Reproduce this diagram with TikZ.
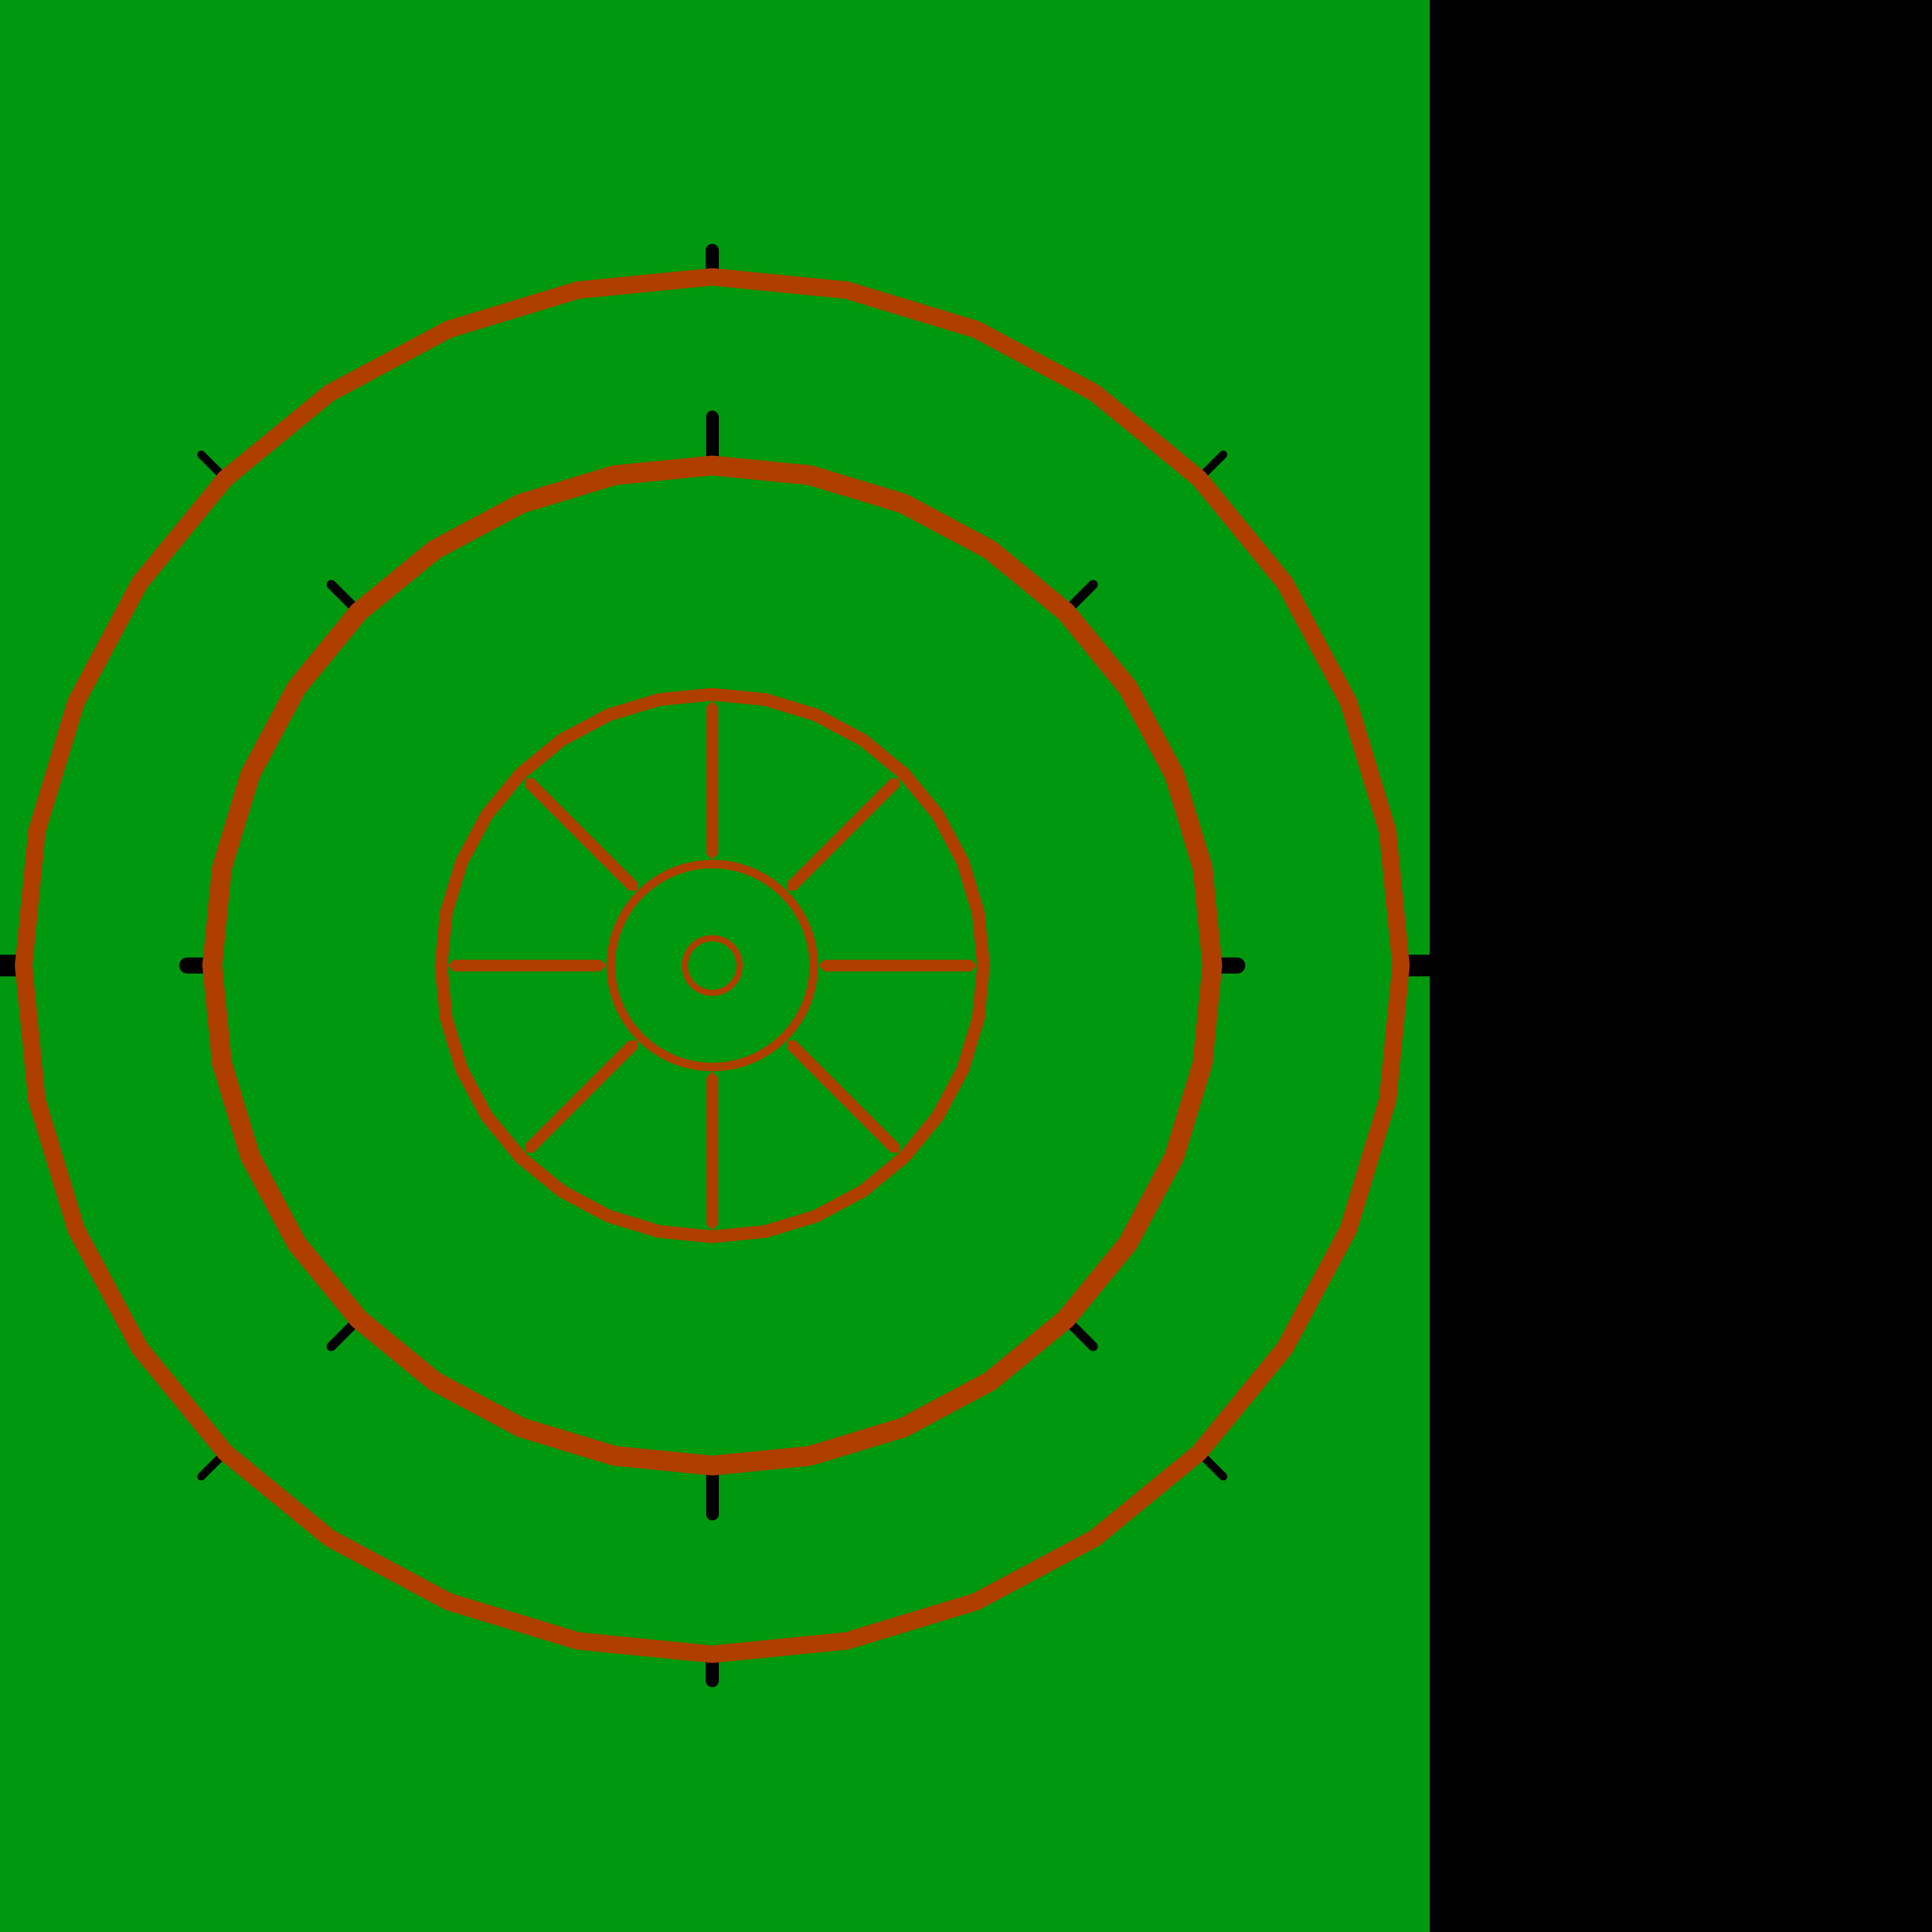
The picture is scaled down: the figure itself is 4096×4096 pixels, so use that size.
\documentclass[tikz,border=0pt]{standalone}
\definecolor{bggreen}{RGB}{0,152,14}
\definecolor{rust}{RGB}{174,63,0}
\begin{document}
\begin{tikzpicture}[x=0.25pt,y=-0.25pt,
  ring/.style={draw=rust, line join=miter},
  tickmark/.style={draw=black, line cap=round},
  spoke/.style={fill=rust}]
\useasboundingbox (0,0) rectangle (4096,4096);
\clip (0,0) rectangle (4096,4096);
\fill[bggreen] (0,0) rectangle (3031,4096);
\begin{scope}[shift={(1510,2047)}]
  % outer ring ticks
  \foreach \a in {90,270} \draw[tickmark, line width=7pt] (\a:1470) -- (\a:1516);
  \foreach \a in {0,180} \draw[tickmark, line width=11.5pt] (\a:1470) -- (\a:1535);
  \foreach \a in {45,135,225,315} \draw[tickmark, line width=4.25pt] (\a:1470) -- (\a:1532);
  % middle ring ticks
  \foreach \a in {90,270} \draw[tickmark, line width=6.75pt] (\a:1070) -- (\a:1163);
  \foreach \a in {0,180} \draw[tickmark, line width=8.5pt] (\a:1070) -- (\a:1113);
  \foreach \a in {45,135,225,315} \draw[tickmark, line width=5pt] (\a:1070) -- (\a:1142);
  % rings
  \draw[ring, line width=9.25pt] (90:1460) \foreach \i in {1,...,31}{ -- ({90+\i*11.25}:1460)} -- cycle;
  \draw[ring, line width=10.5pt] (90:1060) \foreach \i in {1,...,31}{ -- ({90+\i*11.25}:1060)} -- cycle;
  \draw[ring, line width=6.75pt] (90:575) \foreach \i in {1,...,31}{ -- ({90+\i*11.25}:575)} -- cycle;
  % spokes
  \foreach \a in {0,45,...,315}
    \fill[spoke, rotate=\a] (225,0) -- (237.5,12.5) -- (548.5,12.5) -- (561,0) -- (548.5,-12.5) -- (237.5,-12.5) -- cycle;
  % hub circles
  \draw[rust, line width=4.5pt] (0,0) circle (215);
  \draw[rust, line width=3.25pt] (0,0) circle (58);
\end{scope}
\fill[black] (3031,0) rectangle (4096,4096);
\end{tikzpicture}
\end{document}
